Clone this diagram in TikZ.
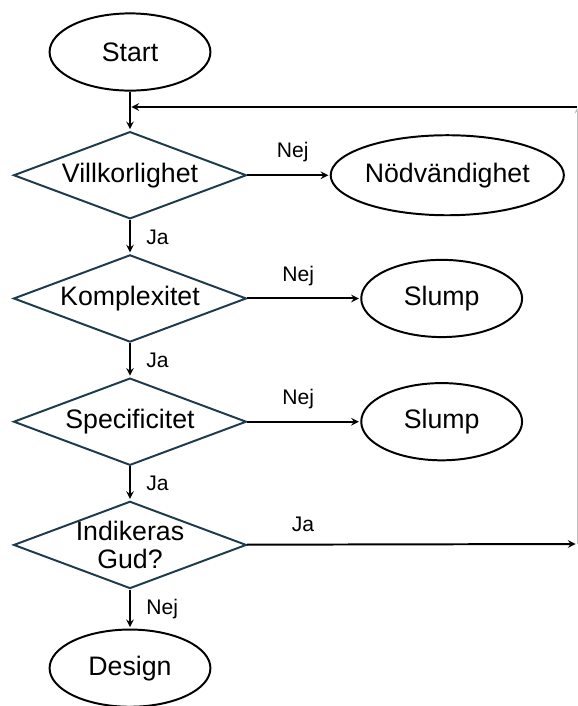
\documentclass[tikz,border=0pt]{standalone}
\usepackage{fontspec}
\setmainfont{Liberation Sans}
\usetikzlibrary{shapes.geometric}
\definecolor{slate}{HTML}{1E3B4C}
\newcommand{\boxfont}{\fontsize{19}{20}\selectfont}
\newcommand{\tagfont}{\fontsize{15}{18}\selectfont}

\begin{document}
\begin{tikzpicture}[x=0.025cm,y=-0.025cm,->,>=stealth,shorten >=1pt,auto,node distance=3.08cm,line width=1.4pt,
    end node/.style={ellipse,draw=black,minimum width=4.02cm,minimum height=1.93cm,inner sep=0pt,font=\boxfont},
    test node/.style={diamond,draw=slate,minimum width=5.82cm,minimum height=2.18cm,inner sep=0pt,
        label={[font=\boxfont,align=center]center:#1}},
    tag/.style={font=\tagfont,inner xsep=11pt,inner ysep=8.5pt}]
                \useasboundingbox (0,0) rectangle (578,706);

                \node[end node] (start) at (130,52) {Start};
                \node[test node=Villkorlighet] (v) [below of = start] {};
                \node[test node=Komplexitet] (k) [below of = v] {};
                \node[test node=Specificitet] (s) [below of = k] {};
                \node[test node={Indikeras\\Gud?}] (i) [below of = s] {};
                \node[end node] (design) [below of = i] {Design};

                \node[end node, minimum width=5.52cm, minimum height=2cm] (nod) [right of = v, xshift = 138] {Nödvändighet};
                \node[end node] (slump1) [right of = k, xshift = 134] {Slump};
                \node[end node] (slump2) [right of = s, xshift = 134] {Slump};

                \coordinate (rb) at (577,544);
                \coordinate (rt) at (577,107);
                \coordinate (join) at (start |- rt);

                \path[every node/.style={tag}]
                    (start) edge (v)
                    (v) edge node {Ja} (k)
                    (k) edge node {Ja} (s)
                    (s) edge node {Ja} (i)
                    (i) edge node {Nej} (design)
                    (v) edge node[pos=0.55] {Nej} (nod)
                    (k) edge node[pos=0.45] {Nej} (slump1)
                    (s) edge node[pos=0.45] {Nej} (slump2)
                    (i) edge node[pos=0.17] {Ja} (rb)
                    (rb) edge[draw=gray!50, line width=0.6pt] (rt)
                    (rt) edge (join)
                    ;
            \end{tikzpicture}
\end{document}
